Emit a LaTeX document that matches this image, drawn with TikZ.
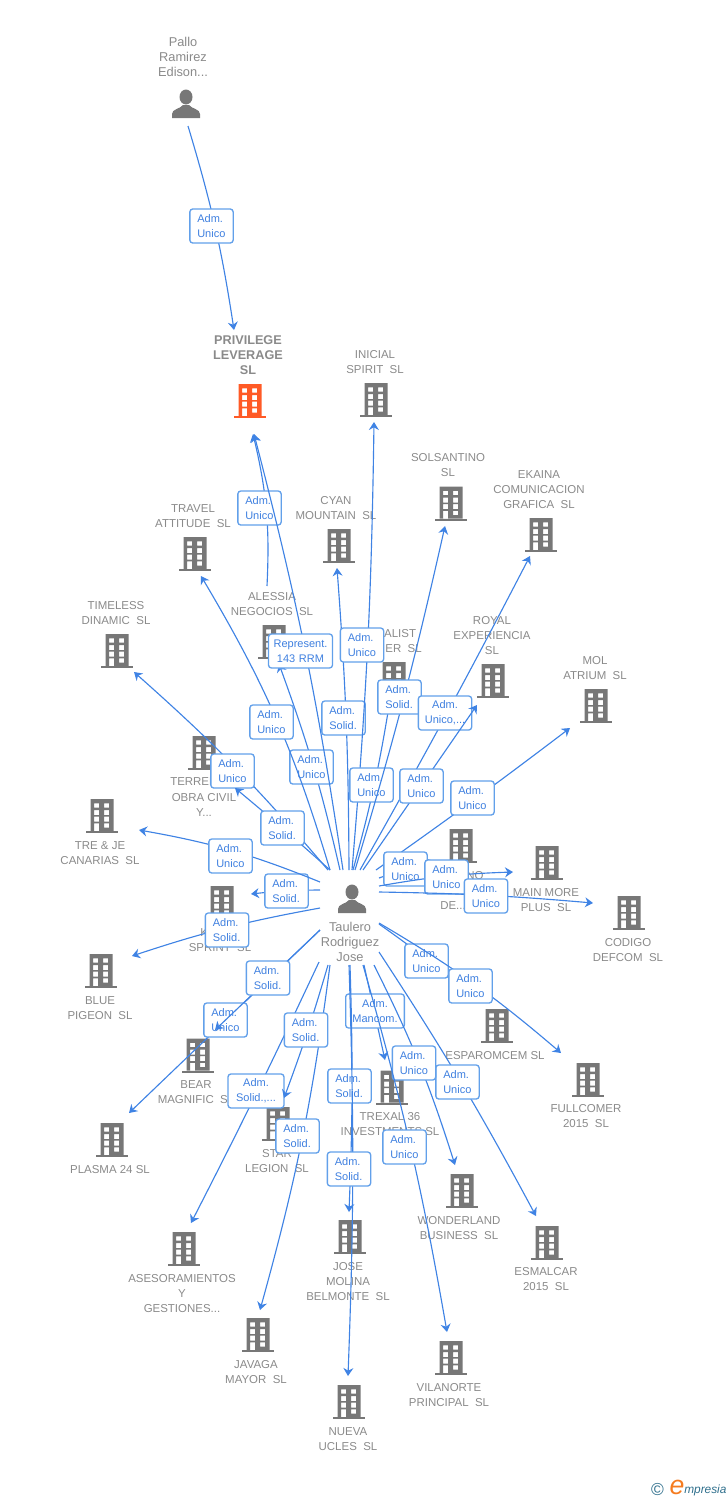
\documentclass[tikz,border=0pt]{standalone}
\usepackage{fontspec}
\setmainfont{Liberation Sans}
\usetikzlibrary{arrows.meta}
\definecolor{icon}{HTML}{777777}
\definecolor{txt}{HTML}{8A8A8A}
\definecolor{link}{HTML}{3F83E4}
\definecolor{boxline}{HTML}{62A0EA}
\definecolor{boxtxt}{HTML}{3F80E0}
\definecolor{hot}{HTML}{FF5A26}
\definecolor{teal}{HTML}{2F6F8C}
\definecolor{logoor}{HTML}{F57C20}
\tikzset{
  pics/bldg/.style={code={
    \fill[#1,even odd rule] (-11.5,-17) rectangle (11.5,15)
      (-8,-12.7) rectangle (-3,-8.3) (2,-12.7) rectangle (7,-8.3)
      (-8,-6) rectangle (-3,-1) (2,-6) rectangle (7,-1)
      (-8,0.7) rectangle (-3,5.7) (2,0.7) rectangle (7,5.7)
      (-8,7.3) rectangle (-3,15) (2,7.3) rectangle (7,11.7);
    \fill[#1] (-16,15) rectangle (16,17);
  }},
  pics/person/.style={code={
    \fill[icon] (0,-7) ellipse (6.5 and 7.5);
    \fill[icon] (-14,14) -- (-14,10) .. controls (-14,5) and (-6,5) .. (-3,1) -- (3,1)
      .. controls (6,5) and (14,5) .. (14,10) -- (14,14) -- cycle;
  }},
  iconbox/.style={inner sep=0pt,minimum width=24pt,minimum height=25.5pt},
  tlab/.style={text=txt,align=center,inner sep=0pt,yshift=-0.75pt,font=\fontsize{8.6}{11.25}\selectfont},
  plab/.style={text=txt,align=center,inner sep=0pt,font=\fontsize{9.6}{11.25}\selectfont},
  edgeline/.style={draw=link,line width=0.85pt,-{Stealth[length=6pt,width=7.5pt,inset=2pt]}},
  lblbox/.style={draw=boxline,line width=1pt,fill=white,rounded corners=2.2pt,text=boxtxt,
    inner xsep=5.6pt,inner ysep=0pt,minimum width=32.5pt,minimum height=25.5pt,
    text width=21.3pt,align=left,font=\fontsize{8.25}{11.25}\selectfont},
  wide/.style={text width=#1,align=center,inner xsep=1pt},
}
\newcommand\bldg[7][icon]{%
  \node[iconbox] (#2) at (#3,#4) {};
  \pic at (#2) {bldg=#1};
  \node[tlab] (#2-t) at (#5,#6) {#7};
}
\newcommand\conn[7][]{%
  \coordinate (#2-s) at (#3);
  \coordinate (#2-t) at (#4);
  \draw[edgeline] (#2-s) to[#5] (#2-t);
  \node[lblbox,#1] (#2-l) at (#6) {#7};
}
\begin{document}
\begin{tikzpicture}[x=0.75pt,y=-0.75pt]
\useasboundingbox (0,0) rectangle (728,1500);
% people
\node[iconbox] (pallo) at (186,104) {};
\pic at (pallo) {person};
\node[plab] (pallo-t) at (183,57) {Pallo\\Ramirez\\Edison...};
\node[iconbox] (taulero) at (352,899) {};
\pic at (taulero) {person};
\node[plab] (taulero-t) at (350,942) {Taulero\\Rodriguez\\Jose};
% companies
\node[iconbox] (privilege) at (250,401) {};
\pic at (privilege) {bldg=hot};
\node[tlab,yshift=0.75pt,font=\fontsize{9.5}{11.25}\selectfont\bfseries] (privilege-t) at (248,355) {PRIVILEGE\\LEVERAGE\\SL};
\bldg{inicial}{376}{400}{375}{361.5}{INICIAL\\SPIRIT\ \ SL}
\bldg{solsantino}{451}{503.5}{448}{464.5}{SOLSANTINO\\SL}
\bldg{ekaina}{541}{535}{539}{489}{EKAINA\\COMUNICACION\\GRAFICA\ \ SL}
\bldg{cyan}{339}{546}{336}{507.5}{CYAN\\MOUNTAIN\ \ SL}
\bldg{travel}{195}{554}{193}{515.5}{TRAVEL\\ATTITUDE\ \ SL}
\bldg{timeless}{117}{651}{116}{612.5}{TIMELESS\\DINAMIC\ \ SL}
\bldg{alessia}{274}{642}{272}{603.5}{ALESSIA\\NEGOCIOS\ \ SL}
\bldg{realist}{394}{679}{416}{633}{\llap{ALIST}}
\node[tlab,anchor=east] (realist-t2) at (422,648) {ER\ \ SL};
\bldg{royal}{493}{681}{492}{635}{ROYAL\\EXPERIENCIA\\SL}
\bldg{mol}{596}{706}{595}{667.5}{MOL\\ATRIUM\ \ SL}
\bldg{terreno}{204}{753}{204}{803.5}{OBRA CIVIL\\Y...}
\node[tlab,anchor=west] (terreno-t2) at (170,781) {TERREN};
\bldg{treje}{102}{816}{100}{852.5}{TRE \& JE\\CANARIAS\ \ SL}
\bldg{ksprint}{222}{903}{220}{947}{SPRINT\ \ SL}
\node[tlab,anchor=west] (ksprint-t2) at (200,932) {K};
\bldg{blue}{101}{971}{100}{1007.5}{BLUE\\PIGEON\ \ SL}
\bldg{bear}{198}{1055.5}{196}{1091.5}{BEAR\\MAGNIFIC\ \ SL}
\bldg{plasma}{112}{1140}{110}{1169}{PLASMA 24 SL}
\bldg{star}{278}{1124}{277}{1160.5}{STAR\\LEGION\ \ SL}
\bldg{ases}{184}{1249}{182}{1293}{ASESORAMIENTOS\\Y\\GESTIONES...}
\bldg{javaga}{258}{1335}{256}{1371.5}{JAVAGA\\MAYOR\ \ SL}
\bldg{nueva}{349}{1402}{348}{1438.5}{NUEVA\\UCLES\ \ SL}
\bldg{molina}{350}{1237}{348}{1281}{JOSE\\MOLINA\\BELMONTE\ \ SL}
\bldg{vilanorte}{451}{1358}{449}{1394.5}{VILANORTE\\PRINCIPAL\ \ SL}
\bldg{wonderland}{462}{1191}{459}{1227.5}{WONDERLAND\\BUSINESS\ \ SL}
\bldg{esmalcar}{547}{1243}{546}{1278.5}{ESMALCAR\\2015\ \ SL}
\bldg{fullcomer}{588}{1080}{586}{1115.5}{FULLCOMER\\2015\ \ SL}
\bldg{trexal}{392}{1087.5}{390}{1123.5}{TREXAL 36\\INVESTMENTS SL}
\bldg{esparomcem}{497}{1026}{495}{1055}{ESPAROMCEM SL}
\bldg{codigo}{629}{913}{628}{949.5}{CODIGO\\DEFCOM\ \ SL}
\bldg{mainmore}{547}{863}{546}{899.5}{MAIN MORE\\PLUS\ \ SL}
\bldg{no}{461}{846}{475}{875}{NO}
\node[tlab] (no-t2) at (453,905) {DE...};
% connectors and their labels, in stacking order
\conn{e01}{188,126}{234,330}{bend left=4}{211.5,226}{Adm.\\Unico}
\conn{e02}{340,870}{279,664}{bend right=3.5}{311.5,767}{Adm.\\Unico}
\conn{e03}{328,870}{134,672}{bend right=4}{232.5,771}{Adm.\\Unico}
\conn{e04}{330,870}{235,788}{bend right=1}{282.5,828}{Adm.\\Solid.}
\conn{e05}{330,870}{201,576}{bend right=7}{271.5,722}{Adm.\\Unico}
\conn{e06}{267,586}{253,434}{bend right=8}{259.5,508}{Adm.\\Unico}
\conn[wide=46pt]{e07}{343,870}{254,434}{bend right=3}{300.5,651}{Represent.\\143 RRM}
\conn{e08}{349,870}{337,568}{bend right=2}{343.5,718}{Adm.\\Solid.}
\conn{e09}{352,870}{374,422}{bend right=2}{362,645}{Adm.\\Unico}
\conn{e10}{353,870}{390,700}{bend right=3}{371.5,785}{Adm.\\Unico}
\conn{e11}{355,870}{445,526}{bend right=2}{399.5,697}{Adm.\\Solid.}
\conn[wide=38pt]{e12}{360,870}{530,556}{bend right=1}{445,713}{Adm.\\Unico,...}
\conn{e13}{363,870}{477,705}{bend right=0}{421.5,786}{Adm.\\Unico}
\conn{e14}{376,870}{570,728}{bend right=1}{472.5,798}{Adm.\\Unico}
\conn{e15}{379,878}{431,860}{bend right=0}{405.5,869}{Adm.\\Unico}
\conn{e16}{379,886}{513,872}{bend left=4}{446.5,877}{Adm.\\Unico}
\conn{e17}{379,892}{593,903}{bend left=2}{486,896}{Adm.\\Unico}
\conn{e18}{379,924}{473,998}{bend left=3}{426.5,961}{Adm.\\Unico}
\conn{e19}{379,923}{561,1053}{bend left=5}{470.5,986}{Adm.\\Unico}
\conn{e20}{379,952}{536,1216}{bend left=2.5}{457.5,1082}{Adm.\\Unico}
\conn[wide=42pt]{e21}{364,965}{385,1060}{bend right=0}{375,1011}{Adm.\\Mancom.}
\conn{e22}{374,965}{455,1165}{bend left=4.5}{414,1063}{Adm.\\Unico}
\conn{e23}{363,965}{447,1332}{bend left=3}{404.5,1147}{Adm.\\Unico}
\conn{e24}{350,965}{349,1212}{bend left=2}{349.5,1086}{Adm.\\Solid.}
\conn{e25}{349,965}{348,1376}{bend left=2}{349,1169}{Adm.\\Solid.}
\conn[wide=40pt]{e26}{319,962}{191,1223}{bend left=1}{256,1091}{Adm.\\Solid.,...}
\conn{e27}{330,965}{260,1310}{bend left=4}{297.5,1136}{Adm.\\Solid.}
\conn{e28}{328,965}{284,1098}{bend left=2}{306,1030}{Adm.\\Solid.}
\conn{e29}{320,930}{129,1113}{bend left=0}{225.5,1020}{Adm.\\Unico}
\conn{e30}{320,930}{215,1030}{bend left=0}{268,978}{Adm.\\Solid.}
\conn{e31}{320,908}{132,956}{bend right=4}{227,930}{Adm.\\Solid.}
\conn{e32}{320,890}{251,894}{bend right=3}{286.5,891}{Adm.\\Solid.}
\conn{e33}{320,882}{139,830}{bend right=6}{230.5,856}{Adm.\\Unico}
% logo
\node[inner sep=0pt,text=teal,font=\fontsize{13}{14}\selectfont] (logo-c) at (657.5,1489) {©};
\node[inner sep=0pt,text=logoor,font=\itshape\fontsize{20}{22}\selectfont] (logo-e) at (677,1487) {e};
\node[inner sep=0pt,anchor=west,text=teal,font=\itshape\fontsize{8.9}{12}\selectfont] (logo-m) at (684,1490) {mpresia};
\end{tikzpicture}
\end{document}
